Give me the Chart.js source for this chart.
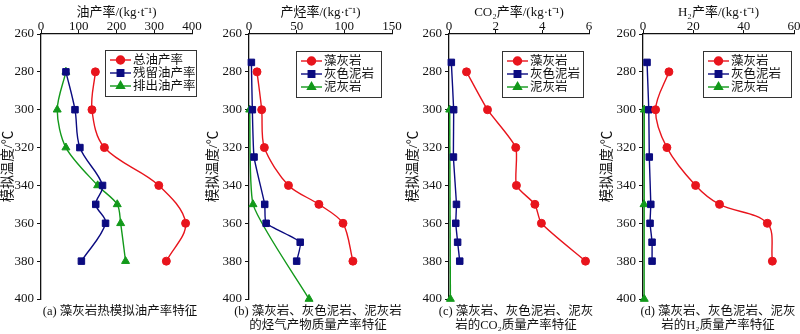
<!DOCTYPE html>
<html>
<head>
<meta charset="utf-8">
<script src="https://cdn.jsdelivr.net/npm/chart.js@4/dist/chart.umd.min.js"></script>
<style>
  body { margin: 0; background: #fff; }
  #wrap { position: relative; width: 800px; height: 334px; }
  #wrap canvas { position: absolute; left: 0; top: 0; }
</style>
</head>
<body>
<div id="wrap">
  <canvas id="chart-a" width="800" height="334"></canvas>
  <canvas id="chart-b" width="800" height="334"></canvas>
  <canvas id="chart-c" width="800" height="334"></canvas>
  <canvas id="chart-d" width="800" height="334"></canvas>
</div>
<script>
// (a) 油产率
const oilTotalT = [280, 300, 320, 340, 360, 380];
const oilTotal = [144, 135, 168, 312, 383, 332];
const oilResT = [280, 300, 320, 340, 350, 360, 380];
const oilRes = [66, 90, 103, 163, 145, 171, 107];
const oilExpT = [280, 300, 320, 340, 350, 360, 380];
const oilExp = [66, 43, 66, 150, 202, 211, 224];

// (b) 烃气产率
const gasZaoT = [280, 300, 320, 340, 350, 360, 380];
const gasZao = [8.4, 13.3, 16.1, 41.4, 73.3, 98.6, 109];
const gasNiT = [275, 300, 325, 350, 360, 370, 380];
const gasNi = [2.5, 3.5, 5.3, 16.5, 18, 53.7, 50];
const gasHuiT = [300, 350, 400];
const gasHui = [0.7, 4.2, 63];

// (c) CO2产率
const co2ZaoT = [280, 300, 320, 340, 350, 360, 380];
const co2Zao = [0.75, 1.65, 2.86, 2.89, 3.68, 3.96, 5.85];
const co2NiT = [275, 300, 325, 350, 360, 370, 380];
const co2Ni = [0.1, 0.2, 0.19, 0.32, 0.29, 0.37, 0.46];
const co2HuiT = [300, 400];
const co2Hui = [0.03, 0.06];

// (d) H2产率
const h2ZaoT = [280, 300, 320, 340, 350, 360, 380];
const h2Zao = [10.3, 5.0, 9.5, 20.9, 30.4, 49.4, 51.4];
const h2NiT = [275, 300, 325, 350, 360, 370, 380];
const h2Ni = [1.6, 2.3, 2.5, 3.1, 2.8, 3.6, 3.6];
const h2HuiT = [300, 350, 400];
const h2Hui = [0.5, 0.4, 0.5];

const yTicks = [260, 280, 300, 320, 340, 360, 380, 400];

const FONT = '"Liberation Serif", "Noto Sans CJK SC", serif';
const RED = "#e8141c";
const NAVY = "#0b0b80";
const GREEN = "#12991a";

function pts(temps, vals) {
  return temps.map((t, i) => ({ x: vals[i], y: t }));
}

function serie(label, temps, vals, color, style, tension) {
  return {
    label: label,
    data: pts(temps, vals),
    showLine: true,
    borderColor: color,
    backgroundColor: color,
    borderWidth: 1.4,
    pointStyle: style,
    pointRadius: style === "circle" ? 4 : 4.6,
    pointBorderWidth: 1,
    tension: tension,
    clip: false,
  };
}

// leyenda con recuadro dentro del área
const boxLegend = {
  id: "boxLegend",
  afterDraw(chart, args, opts) {
    const ctx = chart.ctx;
    ctx.save();
    ctx.fillStyle = "#fff";
    ctx.fillRect(opts.x, opts.y, opts.w, opts.h);
    ctx.strokeStyle = "#333";
    ctx.lineWidth = 1;
    ctx.strokeRect(opts.x + 0.5, opts.y + 0.5, opts.w, opts.h);
    chart.data.datasets.forEach((ds, i) => {
      const cy = opts.y + 10 + i * 13;
      ctx.strokeStyle = ds.borderColor;
      ctx.fillStyle = ds.backgroundColor;
      ctx.lineWidth = 1.4;
      ctx.beginPath();
      ctx.moveTo(opts.x + 5, cy);
      ctx.lineTo(opts.x + 26, cy);
      ctx.stroke();
      Chart.helpers.drawPoint(ctx, { pointStyle: ds.pointStyle, radius: ds.pointRadius, borderWidth: 1, rotation: 0 }, opts.x + 15.5, cy);
      ctx.fillStyle = "#111";
      ctx.font = "12.5px " + FONT;
      ctx.textBaseline = "middle";
      ctx.textAlign = "left";
      ctx.fillText(ds.label, opts.x + 28, cy + 0.5);
    });
    ctx.restore();
  },
};

// pie de figura
const caption = {
  id: "caption",
  afterDraw(chart, args, opts) {
    const ctx = chart.ctx;
    ctx.save();
    ctx.fillStyle = "#111";
    ctx.font = "12.5px " + FONT;
    ctx.textAlign = "center";
    ctx.textBaseline = "middle";
    opts.lines.forEach((l, i) => ctx.fillText(l, opts.x, opts.y + i * 13.5));
    ctx.restore();
  },
};

function crearPanel(id, cfg) {
  const ctx = document.getElementById(id).getContext("2d");
  return new Chart(ctx, {
    type: "scatter",
    data: { datasets: cfg.datasets },
    plugins: [boxLegend, caption],
    options: {
      responsive: false,
      animation: false,
      devicePixelRatio: 1,
      layout: {
        padding: { left: cfg.padLeft, right: cfg.padRight, top: 0, bottom: 35 },
      },
      plugins: {
        legend: { display: false },
        tooltip: { enabled: false },
        boxLegend: cfg.legend,
        caption: cfg.caption,
      },
      scales: {
        x: {
          type: "linear",
          position: "top",
          min: cfg.xMin,
          max: cfg.xMax,
          afterBuildTicks: (s) => { s.ticks = cfg.xTicks.map((v) => ({ value: v })); },
          ticks: { font: { family: FONT, size: 13 }, color: "#111", padding: -4 },
          grid: { drawOnChartArea: false, tickLength: 4, color: "#111", lineWidth: 1 },
          border: { display: true, color: "#111", width: 1.3 },
          title: {
            display: true,
            text: cfg.xTitle,
            font: { family: FONT, size: 13 },
            color: "#111",
            padding: { top: 5, bottom: 0 },
          },
          afterFit: (s) => { s.height = 34; },
        },
        y: {
          type: "linear",
          position: "left",
          reverse: true,
          min: 260,
          max: 400,
          afterBuildTicks: (s) => { s.ticks = yTicks.map((v) => ({ value: v })); },
          ticks: { font: { family: FONT, size: 13 }, color: "#111", padding: 3 },
          grid: { drawOnChartArea: false, tickLength: 4, color: "#111", lineWidth: 1 },
          border: { display: true, color: "#111", width: 1.3 },
          title: {
            display: true,
            text: "模拟温度/℃",
            font: { family: FONT, size: 13.5 },
            color: "#111",
            padding: { top: 0, bottom: 0 },
          },
          afterFit: (s) => { s.width = cfg.yWidth; },
        },
      },
    },
  });
}

crearPanel("chart-a", {
  datasets: [
    serie("总油产率", oilTotalT, oilTotal, RED, "circle", 0.35),
    serie("残留油产率", oilResT, oilRes, NAVY, "rect", 0.35),
    serie("排出油产率", oilExpT, oilExp, GREEN, "triangle", 0.3),
  ],
  padLeft: 0, yWidth: 41, padRight: 608,
  xMin: 0, xMax: 400, xTicks: [0, 100, 200, 300, 400],
  xTitle: "油产率/(kg·t⁻¹)",
  legend: { x: 105, y: 50, w: 91, h: 46 },
  caption: { x: 120, y: 312, lines: ["(a) 藻灰岩热模拟油产率特征"] },
});

crearPanel("chart-b", {
  datasets: [
    serie("藻灰岩", gasZaoT, gasZao, RED, "circle", 0.3),
    serie("灰色泥岩", gasNiT, gasNi, NAVY, "rect", 0.15),
    serie("泥灰岩", gasHuiT, gasHui, GREEN, "triangle", 0.2),
  ],
  padLeft: 205, yWidth: 44, padRight: 408,
  xMin: 0, xMax: 150, xTicks: [0, 50, 100, 150],
  xTitle: "产烃率/(kg·t⁻¹)",
  legend: { x: 296, y: 51, w: 85, h: 46 },
  caption: { x: 318, y: 312, lines: ["(b) 藻灰岩、灰色泥岩、泥灰岩", "的烃气产物质量产率特征"] },
});

crearPanel("chart-c", {
  datasets: [
    serie("藻灰岩", co2ZaoT, co2Zao, RED, "circle", 0.2),
    serie("灰色泥岩", co2NiT, co2Ni, NAVY, "rect", 0.1),
    serie("泥灰岩", co2HuiT, co2Hui, GREEN, "triangle", 0),
  ],
  padLeft: 405, yWidth: 44, padRight: 211,
  xMin: 0, xMax: 6, xTicks: [0, 2, 4, 6],
  xTitle: "CO₂产率/(kg·t⁻¹)",
  legend: { x: 502, y: 51, w: 81, h: 46 },
  caption: { x: 516, y: 312, lines: ["(c) 藻灰岩、灰色泥岩、泥灰", "岩的CO₂质量产率特征"] },
});

crearPanel("chart-d", {
  datasets: [
    serie("藻灰岩", h2ZaoT, h2Zao, RED, "circle", 0.35),
    serie("灰色泥岩", h2NiT, h2Ni, NAVY, "rect", 0.1),
    serie("泥灰岩", h2HuiT, h2Hui, GREEN, "triangle", 0),
  ],
  padLeft: 599, yWidth: 44, padRight: 6,
  xMin: 0, xMax: 60, xTicks: [0, 20, 40, 60],
  xTitle: "H₂产率/(kg·t⁻¹)",
  legend: { x: 703, y: 51, w: 88, h: 46 },
  caption: { x: 718, y: 312, lines: ["(d) 藻灰岩、灰色泥岩、泥灰", "岩的H₂质量产率特征"] },
});
</script>
</body>
</html>
